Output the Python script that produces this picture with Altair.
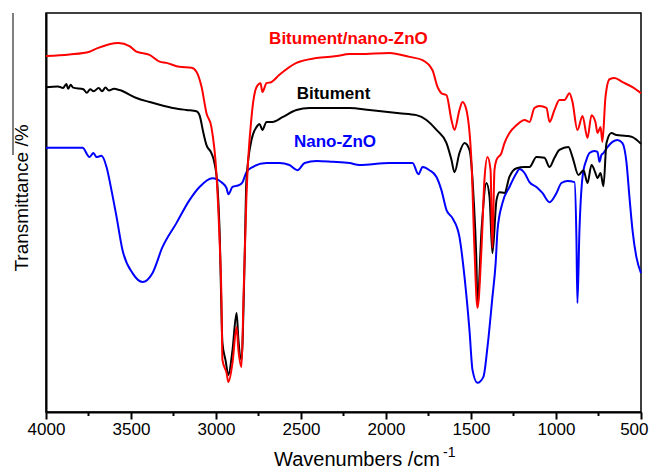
import altair as alt
import pandas as pd

# ---- data (wavenumber cm^-1, transmittance a.u.) ----
wn_red = [4000, 3862, 3744, 3697, 3574, 3509, 3468, 3391, 3332, 3291, 3215, 3144, 3115, 3085, 3056,
          3027, 2997, 2979, 2968, 2962, 2938, 2927, 2903, 2879, 2868, 2850, 2838, 2821, 2791, 2762,
          2738, 2727, 2703, 2674, 2627, 2527, 2409, 2291, 2215, 2156, 1979, 1862, 1785, 1727, 1697,
          1674, 1644, 1615, 1597, 1568, 1550, 1527, 1497, 1480, 1462, 1438, 1421, 1403, 1385, 1374,
          1362, 1350, 1321, 1303, 1274, 1232, 1185, 1156, 1127, 1097, 1056, 1038, 1009, 980, 950,
          921, 903, 874, 844, 815, 791, 768, 756, 738, 727, 709, 685, 656, 609, 550, 500]
t_red = [89.2, 89.6, 90.3, 91.2, 92.5, 91.7, 90.3, 89.5, 87.8, 87.5, 86.5, 86.3, 85.3, 81.5, 74.9,
         71.4, 59.4, 43.1, 28.8, 13.0, 9.8, 7.5, 12.3, 21.3, 15.5, 11.3, 28.8, 53.9, 73.9, 81.4,
         82.4, 80.2, 82.4, 82.7, 84.5, 87.5, 88.7, 89.2, 89.7, 89.7, 90.0, 89.0, 88.2, 85.7, 81.5,
         79.9, 79.4, 73.2, 70.7, 75.7, 77.7, 75.7, 62.4, 41.3, 26.1, 41.3, 58.1, 63.9, 60.6, 41.1,
         60.6, 63.2, 64.9, 67.4, 69.9, 71.9, 73.2, 72.7, 76.2, 76.7, 76.2, 72.7, 75.7, 78.2, 78.2,
         79.9, 77.7, 70.7, 74.2, 68.7, 74.4, 72.7, 69.9, 71.4, 67.7, 78.9, 83.4, 83.7, 82.7, 81.4, 79.9]

wn_blk = [4000, 3930, 3900, 3880, 3870, 3855, 3840, 3780, 3760, 3740, 3720, 3690, 3670, 3650, 3630,
          3600, 3568, 3468, 3391, 3256, 3174, 3115, 3097, 3074, 3056, 3027, 3009,
          2991, 2979, 2962, 2944, 2927, 2903, 2879, 2868, 2850, 2832, 2821, 2791, 2762, 2744, 2727,
          2703, 2668, 2609, 2527, 2450, 2332, 2215, 2097, 1921, 1821, 1762, 1703, 1644, 1615, 1597,
          1568, 1538, 1509, 1485, 1468, 1462, 1438, 1409, 1391, 1374, 1350, 1332, 1303, 1274, 1232,
          1185, 1156, 1115, 1068, 1038, 1009, 980, 927, 903, 868, 838, 815, 791, 768, 756,
          738, 721, 703, 674, 644, 585, 550, 500]
t_blk = [81.4, 81.6, 81.2, 82.2, 81.0, 82.0, 81.3, 80.9, 80.0, 80.9, 80.4, 81.2, 80.4, 81.3, 80.6,
         81.0, 80.7, 78.7, 77.7, 76.2, 75.7, 75.4, 74.4, 69.9, 66.9, 64.9, 62.4,
         56.4, 45.6, 17.3, 13.0, 9.3, 15.5, 24.8, 18.0, 13.0, 37.3, 58.1, 68.2, 71.4, 72.2, 70.7,
         72.7, 72.7, 73.9, 75.7, 76.2, 76.2, 76.2, 75.7, 74.9, 74.4, 73.2, 70.7, 67.4, 63.2, 60.1,
         64.9, 67.4, 65.7, 53.9, 37.3, 26.8, 45.6, 57.4, 53.9, 39.8, 53.1, 55.1, 54.9, 58.9, 61.1,
         61.4, 61.4, 63.9, 63.7, 61.4, 63.7, 65.7, 66.4, 63.9, 59.4, 60.6, 57.4, 61.9, 59.9, 58.6,
         59.9, 56.6, 67.4, 69.9, 69.4, 69.2, 68.9, 67.2]

wn_blu = [4000, 3785, 3744, 3721, 3703, 3674, 3644, 3615, 3585, 3550, 3491, 3432, 3374, 3315, 3232,
          3156, 3097, 3021, 2968, 2938, 2927, 2903, 2862, 2844, 2821, 2785, 2703, 2627, 2568, 2521,
          2479, 2409, 2315, 2215, 2156, 1979, 1844, 1809, 1785, 1744, 1703, 1674, 1644, 1609, 1568,
          1538, 1509, 1491, 1462, 1427, 1403, 1374, 1355, 1344, 1315, 1274, 1232, 1215, 1185, 1156,
          1115, 1080, 1038, 997, 968, 932, 891, 880, 874, 862, 844, 821, 803, 774, 756,
          744, 733, 721, 697, 668, 638, 609, 585, 568, 550, 527, 500]
t_blu = [66.2, 66.2, 63.9, 64.9, 63.9, 64.2, 61.4, 55.6, 48.9, 40.6, 34.8, 32.6, 34.8, 41.3, 47.4,
         53.1, 56.4, 58.6, 57.6, 56.1, 54.6, 56.4, 56.9, 57.6, 60.1, 61.4, 62.4, 62.4, 61.9, 60.6,
         62.4, 62.9, 62.7, 62.4, 61.9, 62.4, 62.4, 59.6, 61.4, 60.6, 58.9, 55.6, 50.6, 48.6, 43.9,
         33.8, 20.5, 10.5, 7.3, 8.8, 16.3, 28.8, 37.3, 45.6, 52.4, 56.4, 59.9, 60.9, 59.9, 57.6,
         56.4, 54.9, 52.6, 54.9, 57.4, 57.9, 57.6, 43.9, 27.3, 45.6, 58.9, 63.2, 64.9, 65.4, 65.2,
         62.7, 64.4, 64.9, 66.4, 67.7, 68.2, 67.4, 62.4, 53.9, 45.6, 38.8, 34.8]

series_names = ["Bitument/nano-ZnO", "Bitument", "Nano-ZnO"]
series_colors = ["#ff0000", "#000000", "#0000ff"]
label_wn = [2221, 2309, 2300]
label_t = [93.5, 79.8, 67.7]

major_ticks = [4000, 3500, 3000, 2500, 2000, 1500, 1000, 500]
minor_ticks = [3750, 3250, 2750, 2250, 1750, 1250, 750]

FONT = "Liberation Sans"
W, H = 595, 399

x_scale = alt.Scale(domain=[500, 4000], reverse=True, nice=False, zero=False)
y_scale = alt.Scale(domain=[0, 100], nice=False, zero=False)

x_axis = alt.Axis(values=major_ticks, format="d", title=None, grid=False,
                  domainColor="black", domainWidth=2, tickColor="black", tickWidth=2,
                  tickSize=7, labelFont=FONT, labelFontSize=17, labelColor="black",
                  labelPadding=2, labelFlush=False,
                  labelAlign=alt.condition("datum.value == 500", alt.value("right"), alt.value("center")),
                  labelOffset=alt.condition("datum.value == 500", alt.value(7), alt.value(0)))
y_axis = alt.Axis(labels=False, ticks=False, title=None, grid=False,
                  domainColor="black", domainWidth=2)

X = alt.X("wn:Q", scale=x_scale, axis=x_axis)
Y = alt.Y("t:Q", scale=y_scale, axis=y_axis)


def line_layer(wn, t, color):
    df = pd.DataFrame({"wn": wn, "t": t})
    return alt.Chart(df).mark_line(color=color, strokeWidth=2, interpolate="monotone").encode(
        x=X, y=Y)


blue = line_layer(wn_blu, t_blu, series_colors[2])
black = line_layer(wn_blk, t_blk, series_colors[1])
red = line_layer(wn_red, t_red, series_colors[0])

labels_df = pd.DataFrame({"name": series_names, "color": series_colors,
                          "wn": label_wn, "t": label_t})
labels = alt.Chart(labels_df).mark_text(font=FONT, fontSize=17, fontWeight="bold",
                                        align="center", baseline="middle").encode(
    x=X, y=Y,
    text="name:N",
    color=alt.Color("color:N", scale=None),
)

minor_df = pd.DataFrame({"wn": minor_ticks})
minor = alt.Chart(minor_df).mark_rule(color="black", strokeWidth=2).encode(
    x=X,
    y=alt.value(H),
    y2=alt.value(H + 4),
)

xtitle = alt.Chart(pd.DataFrame({"s": ["Wavenumbers /cm"]})).mark_text(
    font=FONT, fontSize=20, align="left", baseline="alphabetic", color="black").encode(
    x=alt.value(228), y=alt.value(453), text="s:N")
xsup = alt.Chart(pd.DataFrame({"s": ["-1"]})).mark_text(
    font=FONT, fontSize=14, align="left", baseline="alphabetic", color="black").encode(
    x=alt.value(397), y=alt.value(444), text="s:N")
ytitle = alt.Chart(pd.DataFrame({"s": ["Transmittance /%"]})).mark_text(
    font=FONT, fontSize=19, align="center", baseline="middle", angle=270, color="black").encode(
    x=alt.value(-24), y=alt.value(185), text="s:N")
overline = alt.Chart(pd.DataFrame({"a": [0]})).mark_rule(color="black", strokeWidth=1).encode(
    x=alt.value(-33), y=alt.value(0), y2=alt.value(142))

chart = alt.layer(blue, black, red, labels, minor, xtitle, xsup, ytitle, overline).properties(
    width=W, height=H,
    autosize=alt.AutoSizeParams(type="none"),
    padding={"left": 38, "top": 5, "right": 8, "bottom": 58},
).configure_view(stroke="black", strokeWidth=1.5)

chart.save("out.html", embed_options={"renderer": "svg", "actions": False})
